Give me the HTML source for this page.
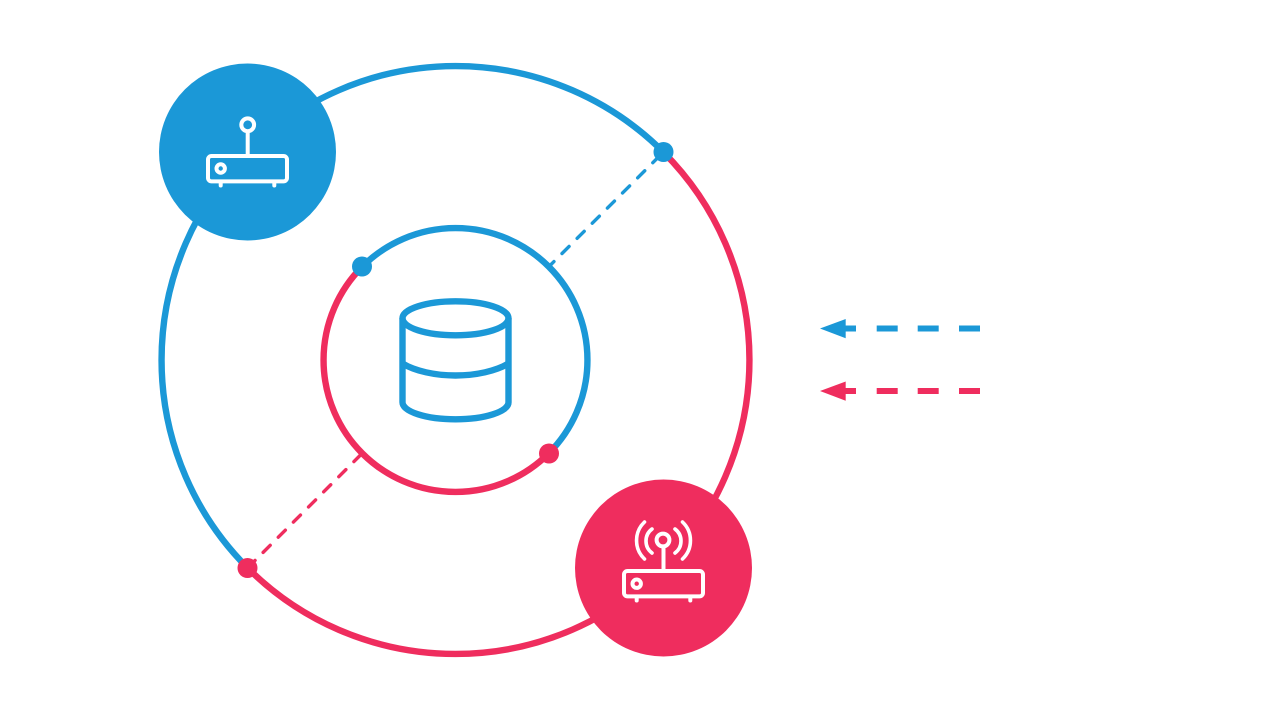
<!DOCTYPE html>
<html lang="en">
<head>
<meta charset="utf-8">
<title>Diagram</title>
<style>
html,body{margin:0;padding:0;background:#fff;width:1280px;height:721px;overflow:hidden}
svg{display:block}
</style>
</head>
<body>
<svg xmlns="http://www.w3.org/2000/svg" width="1280" height="721" viewBox="0 0 1280 721">
<rect width="1280" height="721" fill="#fff"/>
<g fill="none" stroke-width="6.4">
<path d="M663.4 152.1A100 100 0 0 0 247.6 567.9" stroke="#1b98d7"/>
<path d="M247.6 567.9A100 100 0 0 0 663.4 152.1" stroke="#ef2d5e"/>
<path d="M548.8 453.3A50 50 0 0 1 362.2 266.7" stroke="#ef2d5e" transform="translate(0 0)"/>
<path d="M362.2 266.7A50 50 0 0 1 548.8 453.3" stroke="#1b98d7"/>
</g>
<line x1="549" y1="266.5" x2="663" y2="152.5" stroke="#1b98d7" stroke-width="3.4" stroke-linecap="round" stroke-dasharray="10 11.4" stroke-dashoffset="3"/>
<line x1="361" y1="454.5" x2="248" y2="567.5" stroke="#ef2d5e" stroke-width="3.4" stroke-linecap="round" stroke-dasharray="10 11.4"/>
<circle cx="663.5" cy="152" r="10" fill="#1b98d7"/>
<circle cx="362" cy="266.5" r="10" fill="#1b98d7"/>
<circle cx="549" cy="453.5" r="10" fill="#ef2d5e"/>
<circle cx="247.5" cy="568" r="10" fill="#ef2d5e"/>

<circle cx="247.5" cy="152" r="88.5" fill="#1b98d7"/>
<circle cx="663.5" cy="568" r="88.5" fill="#ef2d5e"/>

<g fill="none" stroke="#fff" stroke-width="4" stroke-linecap="round">
<rect x="208" y="156" width="79" height="25.4" rx="3.5"/>
<circle cx="247.7" cy="124.8" r="6.4"/>
<line x1="247.7" y1="132" x2="247.7" y2="155"/>
<circle cx="220.7" cy="168.5" r="4.2"/>
<line x1="220.7" y1="183" x2="220.7" y2="185.5"/>
<line x1="274.3" y1="183" x2="274.3" y2="185.5"/>
</g>
<g fill="none" stroke="#fff" stroke-width="4" stroke-linecap="round">
<rect x="624" y="571" width="79" height="25.4" rx="3.5"/>
<circle cx="663" cy="540" r="6.4"/>
<line x1="663.5" y1="547" x2="663.5" y2="570"/>
<circle cx="636.7" cy="583.7" r="4.2"/>
<line x1="636.7" y1="598" x2="636.7" y2="600.5"/>
<line x1="690.3" y1="598" x2="690.3" y2="600.5"/>
<g stroke-width="3.6">
<path d="M652 529A15 15 0 0 0 652 553"/>
<path d="M675 529A15 15 0 0 1 675 553"/>
<path d="M644.5 522A25.5 25.5 0 0 0 644.5 559"/>
<path d="M682.5 522A25.5 25.5 0 0 1 682.5 559"/>
</g>
</g>

<g fill="none" stroke="#1b98d7" stroke-width="6.4">
<ellipse cx="455.5" cy="318.3" rx="53" ry="17"/>
<path d="M402.5 318.3V402.3A53 17 0 0 0 508.5 402.3V318.3"/>
<path d="M402.5 363.5C415 371 435 375.5 455.5 375.5S496 371 508.5 363.5"/>
</g>

<path d="M820 328.5L845.7 319V338.3Z" fill="#1b98d7"/>
<g stroke="#1b98d7" stroke-width="6">
<line x1="845" y1="328.5" x2="856" y2="328.5"/>
<line x1="876.7" y1="328.5" x2="897.7" y2="328.5"/>
<line x1="917.7" y1="328.5" x2="938.7" y2="328.5"/>
<line x1="959" y1="328.5" x2="980" y2="328.5"/>
</g>
<path d="M820 391L845.7 381.5V400.8Z" fill="#ef2d5e"/>
<g stroke="#ef2d5e" stroke-width="6">
<line x1="845" y1="391" x2="856" y2="391"/>
<line x1="876.7" y1="391" x2="897.7" y2="391"/>
<line x1="917.7" y1="391" x2="938.7" y2="391"/>
<line x1="959" y1="391" x2="980" y2="391"/>
</g>
</svg>
</body>
</html>
